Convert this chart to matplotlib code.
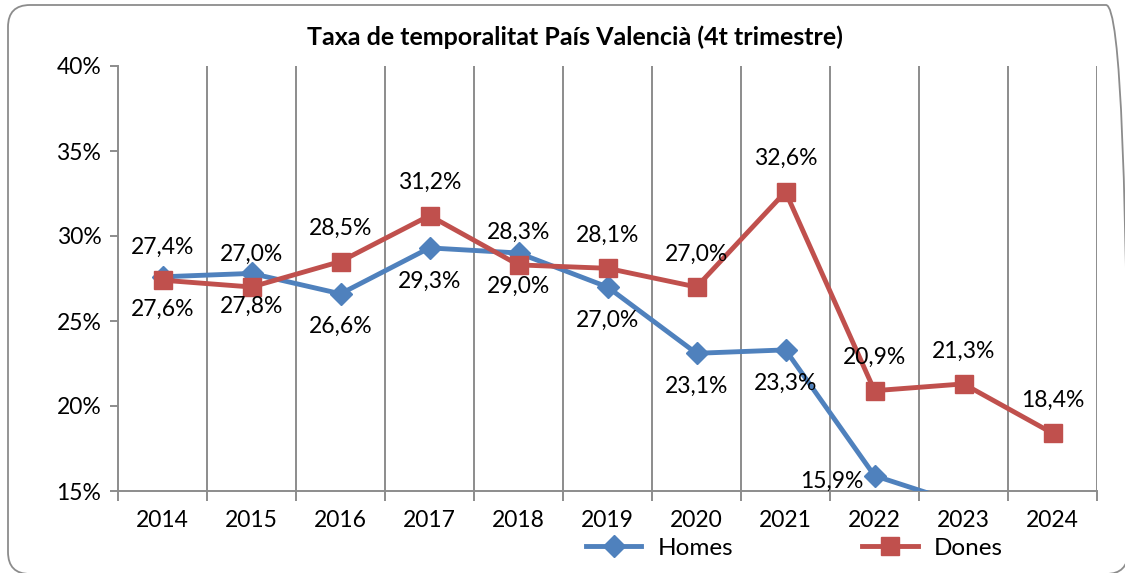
import matplotlib
matplotlib.use("Agg")
import matplotlib.pyplot as plt
from matplotlib.patches import FancyBboxPatch
from matplotlib.transforms import IdentityTransform

plt.rcParams['font.family'] = ['Lato', 'DejaVu Sans']

years = ["2014", "2015", "2016", "2017", "2018", "2019", "2020", "2021", "2022", "2023", "2024"]
homes = [27.6, 27.8, 26.6, 29.3, 29.0, 27.0, 23.1, 23.3, 15.9, 14.2, 13.0]
dones = [27.4, 27.0, 28.5, 31.2, 28.3, 28.1, 27.0, 32.6, 20.9, 21.3, 18.4]
homes_labels_shown = 9  # labels for 2014..2022 (rest fall below the axis)
yticks = [15, 20, 25, 30, 35, 40]
title = "Taxa de temporalitat País Valencià (4t trimestre)"

blue = "#4F81BD"
red = "#C0504D"
grid = "#8C8C8C"

W, H = 1125, 573
fig = plt.figure(figsize=(W / 100, H / 100), dpi=100)

# rounded outer frame (pixel coordinates)
frame = FancyBboxPatch((8, -1), 1120, 569,
                       boxstyle="round,pad=0,rounding_size=22",
                       transform=IdentityTransform(), facecolor="none",
                       edgecolor="#8C8C8C", linewidth=1.3, zorder=-1)
fig.patches.append(frame)

ax = fig.add_axes([118 / W, 1 - 491 / H, (1097 - 118) / W, (491 - 66) / H])
ax.set_facecolor("none")
x = list(range(len(years)))
ax.set_xlim(-0.5, len(years) - 0.5)
ax.set_ylim(15, 40)

for b in range(1, len(years) + 1):
    ax.axvline(b - 0.5, color=grid, lw=1.4, zorder=1)

for s in ["top", "right"]:
    ax.spines[s].set_visible(False)
for s in ["left", "bottom"]:
    ax.spines[s].set_color(grid)
    ax.spines[s].set_linewidth(1.4)

FS = 16.5
ax.set_yticks(yticks)
ax.set_yticklabels([f"{v}%" for v in yticks], fontsize=FS)
ax.tick_params(axis="y", length=6, width=1.4, color=grid, pad=6)
ax.set_xticks(x)
ax.set_xticklabels(years, fontsize=FS)
ax.tick_params(axis="x", which="major", length=0, pad=14)
ax.set_xticks([b - 0.5 for b in range(len(years) + 1)], minor=True)
ax.tick_params(axis="x", which="minor", length=7, width=1.4, color=grid)

ax.plot(x, homes, color=blue, lw=3.5, marker="D", markersize=11,
        markerfacecolor=blue, markeredgecolor=blue, zorder=3, label="Homes")
ax.plot(x, dones, color=red, lw=3.5, marker="s", markersize=13,
        markerfacecolor=red, markeredgecolor=red, zorder=4, label="Dones")

def fmt(v):
    return f"{v:.1f}%".replace(".", ",")

for i, v in enumerate(dones):
    ax.annotate(fmt(v), (i, v), xytext=(0, 33), textcoords="offset pixels",
                ha="center", va="center", fontsize=FS, zorder=5)
for i in range(homes_labels_shown):
    v = homes[i]
    if i == 8:
        ax.annotate(fmt(v), (i, v), xytext=(-43, -6), textcoords="offset pixels",
                    ha="center", va="center", fontsize=FS, zorder=5)
    else:
        ax.annotate(fmt(v), (i, v), xytext=(0, -33), textcoords="offset pixels",
                    ha="center", va="center", fontsize=FS, zorder=5)

fig.text(575 / W, 1 - 37 / H, title, ha="center", va="center",
         fontsize=18, fontweight="bold")

leg = fig.legend(loc="center", bbox_to_anchor=(794 / W, 1 - 548 / H), ncol=2,
                 frameon=False, fontsize=17.5, handlelength=2.3,
                 columnspacing=5.3, handletextpad=0.65)

fig.savefig("out.png", dpi=100)
